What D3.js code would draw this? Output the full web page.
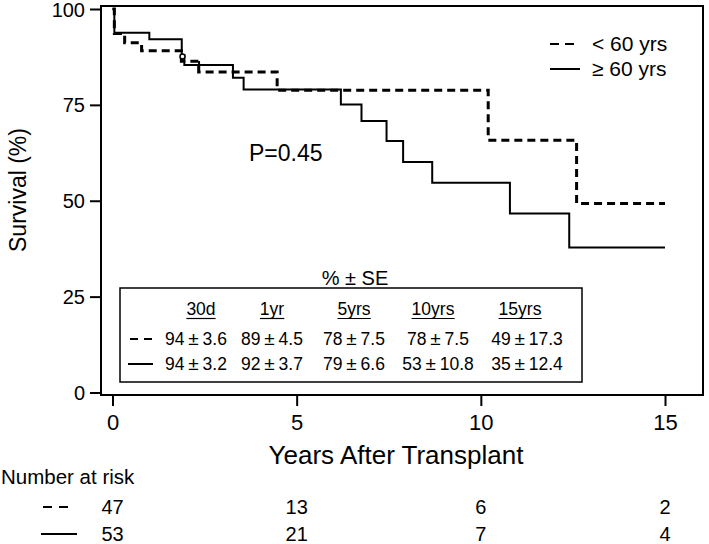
<!DOCTYPE html>
<meta charset="utf-8">
<style>
body{margin:0;background:#fff;font-family:"Liberation Sans",Arial,sans-serif;}
text{fill:#000;}
</style>
<body>
<script src="https://d3js.org/d3.v7.min.js"></script>
<script>
// Kaplan-Meier steps
var ltTimes = [0, 0.05, 0.33, 0.79, 1.87, 2.34, 4.47, 10.2, 12.6, 15];
var ltSurv  = [100, 93.6, 91.2, 89.1, 86.4, 83.6, 78.8, 65.8, 49.3, 49.3];
var geTimes = [0, 0.05, 1.0, 1.88, 1.95, 3.27, 3.56, 6.2, 6.76, 7.44, 7.89, 8.68, 10.79, 12.4, 15];
var geSurv  = [100, 93.8, 92.1, 88.0, 85.4, 82.1, 79.0, 75.1, 70.8, 65.6, 60.1, 54.7, 46.7, 37.8, 37.8];
var geCensorTicks = [2.35];
var geCensorCircle = [1.9, 87.6];

var seriesNames = ["< 60 yrs", "\u2265 60 yrs"];
var yTicks = [0, 25, 50, 75, 100];
var xTicks = [0, 5, 10, 15];

// % +- SE table
var tableCols = ["30d", "1yr", "5yrs", "10yrs", "15yrs"];
var estLt = [94, 89, 78, 78, 49];
var seLt  = [3.6, 4.5, 7.5, 7.5, 17.3];
var estGe = [94, 92, 79, 53, 35];
var seGe  = [3.2, 3.7, 6.6, 10.8, 12.4];

// number at risk
var riskYears = [0, 5, 10, 15];
var riskLt = [47, 13, 6, 2];
var riskGe = [53, 21, 7, 4];

var W = 709, H = 544;
var svg = d3.select("body").append("svg").attr("width", W).attr("height", H);

var x = d3.scaleLinear().domain([0, 15]).range([112.5, 665]);
var y = d3.scaleLinear().domain([0, 100]).range([392.5, 9]);

// frame
svg.append("rect").attr("x", 101).attr("y", 6).attr("width", 602).attr("height", 389)
  .attr("fill", "none").attr("stroke", "#000").attr("stroke-width", 2);

// y axis
var yAxis = svg.append("g").attr("transform", "translate(101,0)")
  .call(d3.axisLeft(y).tickValues(yTicks).tickSize(11).tickPadding(5));
yAxis.select(".domain").remove();
yAxis.selectAll("line").attr("stroke-width", 2);
yAxis.selectAll("text").style("font-size", "20px").attr("font-family", null).attr("dy", "0.35em");

// x axis
var xAxis = svg.append("g").attr("transform", "translate(0,395)")
  .call(d3.axisBottom(x).tickValues(xTicks).tickSize(11).tickPadding(8));
xAxis.select(".domain").remove();
xAxis.selectAll("line").attr("stroke-width", 2);
xAxis.selectAll("text").style("font-size", "22px").attr("font-family", null);

svg.append("text").attr("x", 396).attr("y", 464).attr("text-anchor", "middle")
  .style("font-size", "26px").text("Years After Transplant");
svg.append("text").attr("transform", "translate(26,190) rotate(-90)").attr("text-anchor", "middle")
  .style("font-size", "23px").text("Survival (%)");

// curves
var line = d3.line().x(function(d){ return x(d[0]); }).y(function(d){ return y(d[1]); })
  .curve(d3.curveStepAfter);
svg.append("path").datum(d3.zip(geTimes, geSurv)).attr("d", line)
  .attr("fill", "none").attr("stroke", "#000").attr("stroke-width", 2);
svg.append("path").datum(d3.zip(ltTimes, ltSurv)).attr("d", line)
  .attr("fill", "none").attr("stroke", "#000").attr("stroke-width", 3)
  .attr("stroke-dasharray", "8,5");

// censor marks
geCensorTicks.forEach(function(t){
  var v = geSurv[d3.bisectRight(geTimes, t) - 1];
  svg.append("line").attr("x1", x(t)).attr("x2", x(t)).attr("y1", y(v) - 4).attr("y2", y(v) + 4)
    .attr("stroke", "#000").attr("stroke-width", 2);
});
svg.append("circle").attr("cx", x(geCensorCircle[0])).attr("cy", y(geCensorCircle[1])).attr("r", 2.5)
  .attr("fill", "#fff").attr("stroke", "#000").attr("stroke-width", 1.5);

// legend
[0, 1].forEach(function(i){
  var ly = i == 0 ? 44 : 69;
  svg.append("line").attr("x1", 550).attr("x2", i == 0 ? 576 : 580).attr("y1", ly).attr("y2", ly)
    .attr("stroke", "#000").attr("stroke-width", 2)
    .attr("stroke-dasharray", i == 0 ? "9,6" : null);
  svg.append("text").attr("x", 592).attr("y", ly).attr("dy", "0.35em")
    .style("font-size", "21px").text(seriesNames[i]);
});

svg.append("text").attr("x", 249).attr("y", 153).attr("dy", "0.35em")
  .style("font-size", "23px").text("P=0.45");

// table
svg.append("text").attr("x", 355).attr("y", 278).attr("dy", "0.35em").attr("text-anchor", "middle")
  .style("font-size", "20px").text("% \u00b1 SE");
svg.append("rect").attr("x", 120).attr("y", 288).attr("width", 462).attr("height", 94)
  .attr("fill", "none").attr("stroke", "#000").attr("stroke-width", 1.5);
var headX = [201, 272, 354, 433, 520];
var colX = [196, 272, 354, 438, 527];
tableCols.forEach(function(c, i){
  var t = svg.append("text").attr("x", headX[i]).attr("y", 309).attr("dy", "0.35em")
    .attr("text-anchor", "middle").style("font-size", "17.5px").text(c);
  var b = t.node().getBBox();
  svg.append("line").attr("x1", b.x).attr("x2", b.x + b.width).attr("y1", 318.5).attr("y2", 318.5)
    .attr("stroke", "#000").attr("stroke-width", 1.2);
});
[[estLt, seLt, 339], [estGe, seGe, 364]].forEach(function(r, k){
  r[0].forEach(function(v, i){
    var t = svg.append("text").attr("x", colX[i]).attr("y", r[2]).attr("dy", "0.35em")
      .attr("text-anchor", "middle").style("font-size", "17.5px");
    t.append("tspan").text(v);
    t.append("tspan").style("font-size", "19px").text("\u2009\u00b1\u2009");
    t.append("tspan").text(r[1][i]);
  });
  svg.append("line").attr("x1", k == 0 ? 130 : 128).attr("x2", 153).attr("y1", r[2]).attr("y2", r[2])
    .attr("stroke", "#000").attr("stroke-width", 2)
    .attr("stroke-dasharray", k == 0 ? "8,6" : null);
});

// number at risk
svg.append("text").attr("x", 1).attr("y", 477).attr("dy", "0.35em")
  .style("font-size", "20.5px").text("Number at risk");
[[riskLt, 507], [riskGe, 534]].forEach(function(r, k){
  svg.append("line").attr("x1", k == 0 ? 43 : 41).attr("x2", k == 0 ? 68 : 77).attr("y1", r[1]).attr("y2", r[1])
    .attr("stroke", "#000").attr("stroke-width", 2)
    .attr("stroke-dasharray", k == 0 ? "9,7" : null);
  r[0].forEach(function(v, i){
    svg.append("text").attr("x", x(riskYears[i])).attr("y", r[1]).attr("dy", "0.35em")
      .attr("text-anchor", "middle").style("font-size", "20px").text(v);
  });
});
</script>
</body>
